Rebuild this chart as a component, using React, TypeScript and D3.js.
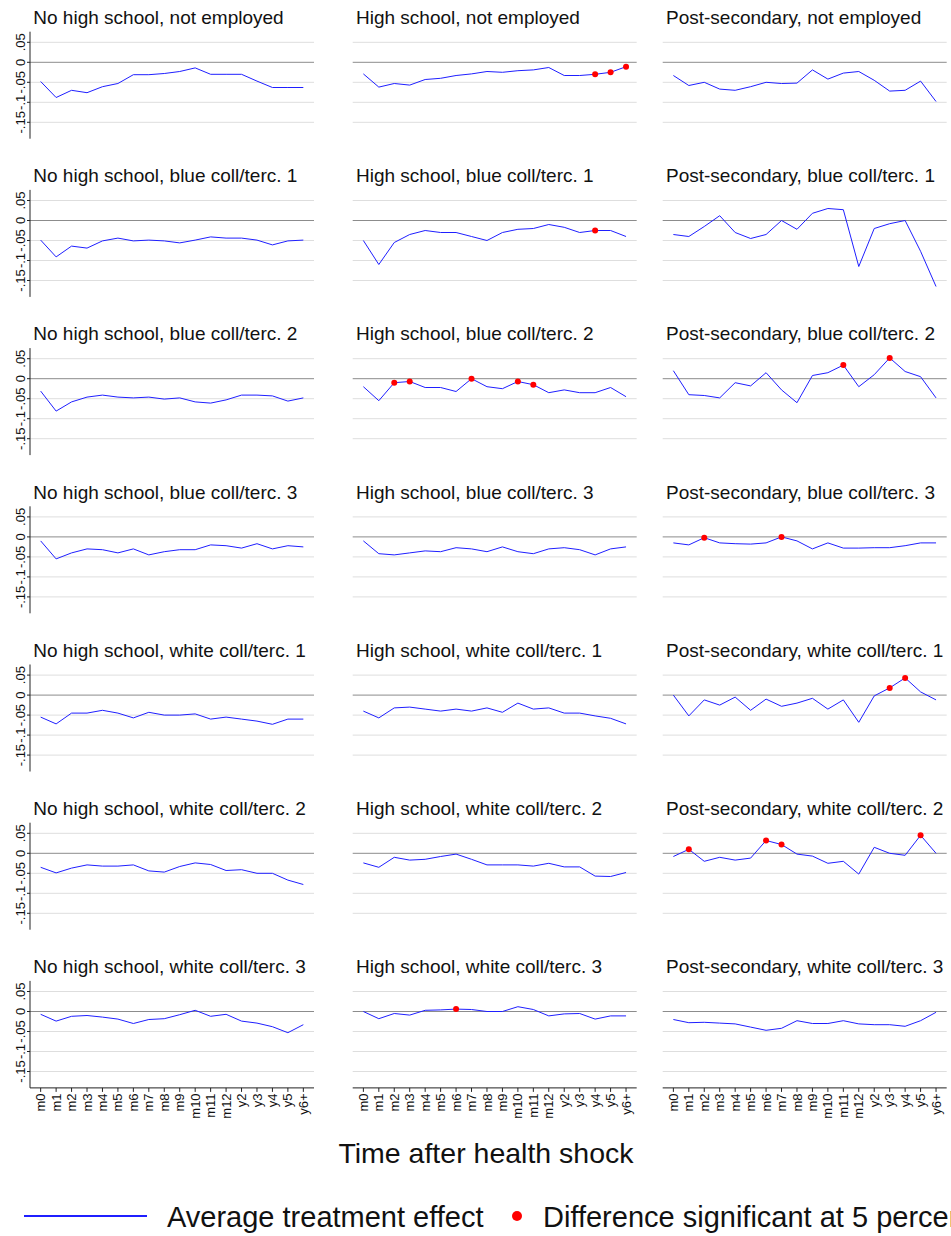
import * as d3 from 'd3'
import React from 'react'

const periods = ['m0', 'm1', 'm2', 'm3', 'm4', 'm5', 'm6', 'm7', 'm8', 'm9', 'm10', 'm11', 'm12', 'y2', 'y3', 'y4', 'y5', 'y6+']
const educationLevels = ['No high school', 'High school', 'Post-secondary']
const jobGroups = ['not employed', 'blue coll/terc. 1', 'blue coll/terc. 2', 'blue coll/terc. 3', 'white coll/terc. 1', 'white coll/terc. 2', 'white coll/terc. 3']
const yTicks = [-0.15, -0.1, -0.05, 0, 0.05]
const yTickLabels = ['-.15', '-.1', '-.05', '0', '.05']

// average treatment effects, one array per panel
const notEmpNoHs = [-0.048, -0.088, -0.070, -0.076, -0.061, -0.053, -0.031, -0.031, -0.028, -0.023, -0.014, -0.030, -0.030, -0.030, -0.047, -0.063, -0.063, -0.063]
const notEmpHs = [-0.029, -0.062, -0.053, -0.057, -0.043, -0.040, -0.033, -0.029, -0.023, -0.025, -0.021, -0.019, -0.013, -0.033, -0.033, -0.030, -0.025, -0.011]
const notEmpPost = [-0.033, -0.058, -0.050, -0.067, -0.070, -0.061, -0.050, -0.053, -0.052, -0.019, -0.042, -0.027, -0.023, -0.045, -0.072, -0.070, -0.047, -0.098]

const blue1NoHs = [-0.049, -0.091, -0.064, -0.069, -0.051, -0.044, -0.051, -0.049, -0.051, -0.056, -0.049, -0.041, -0.044, -0.044, -0.049, -0.061, -0.051, -0.049]
const blue1Hs = [-0.050, -0.110, -0.055, -0.035, -0.025, -0.030, -0.030, -0.040, -0.050, -0.030, -0.022, -0.020, -0.010, -0.017, -0.030, -0.025, -0.025, -0.040]
const blue1Post = [-0.035, -0.040, -0.015, 0.012, -0.030, -0.045, -0.035, 0.000, -0.022, 0.018, 0.030, 0.027, -0.115, -0.020, -0.008, 0.000, -0.077, -0.165]

const blue2NoHs = [-0.031, -0.081, -0.058, -0.046, -0.041, -0.046, -0.048, -0.046, -0.051, -0.048, -0.058, -0.061, -0.053, -0.041, -0.041, -0.043, -0.056, -0.048]
const blue2Hs = [-0.020, -0.055, -0.010, -0.007, -0.022, -0.022, -0.032, 0.000, -0.020, -0.025, -0.007, -0.015, -0.035, -0.028, -0.035, -0.035, -0.022, -0.045]
const blue2Post = [0.020, -0.040, -0.042, -0.048, -0.010, -0.018, 0.015, -0.028, -0.060, 0.008, 0.015, 0.034, -0.020, 0.010, 0.052, 0.018, 0.005, -0.048]

const blue3NoHs = [-0.010, -0.055, -0.040, -0.030, -0.032, -0.040, -0.030, -0.045, -0.037, -0.032, -0.032, -0.020, -0.022, -0.028, -0.017, -0.030, -0.022, -0.025]
const blue3Hs = [-0.010, -0.042, -0.045, -0.040, -0.035, -0.037, -0.027, -0.030, -0.037, -0.025, -0.037, -0.042, -0.030, -0.027, -0.032, -0.045, -0.030, -0.025]
const blue3Post = [-0.015, -0.020, -0.002, -0.015, -0.017, -0.018, -0.015, 0.000, -0.010, -0.030, -0.015, -0.028, -0.028, -0.027, -0.027, -0.022, -0.015, -0.015]

const white1NoHs = [-0.055, -0.072, -0.045, -0.045, -0.038, -0.045, -0.057, -0.043, -0.050, -0.050, -0.047, -0.060, -0.055, -0.060, -0.065, -0.073, -0.060, -0.060]
const white1Hs = [-0.040, -0.057, -0.032, -0.030, -0.035, -0.040, -0.035, -0.040, -0.032, -0.043, -0.020, -0.035, -0.032, -0.045, -0.045, -0.052, -0.058, -0.072]
const white1Post = [0.000, -0.052, -0.012, -0.025, -0.005, -0.038, -0.010, -0.028, -0.020, -0.008, -0.035, -0.012, -0.068, -0.002, 0.018, 0.043, 0.008, -0.012]

const white2NoHs = [-0.035, -0.049, -0.037, -0.029, -0.032, -0.032, -0.029, -0.044, -0.047, -0.033, -0.024, -0.028, -0.043, -0.041, -0.050, -0.050, -0.067, -0.078]
const white2Hs = [-0.024, -0.035, -0.010, -0.017, -0.015, -0.008, -0.002, -0.015, -0.029, -0.029, -0.029, -0.032, -0.025, -0.034, -0.034, -0.057, -0.058, -0.048]
const white2Post = [-0.008, 0.010, -0.020, -0.010, -0.017, -0.012, 0.032, 0.022, -0.002, -0.007, -0.025, -0.020, -0.052, 0.015, 0.000, -0.005, 0.045, 0.000]

const white3NoHs = [-0.007, -0.024, -0.012, -0.010, -0.014, -0.019, -0.030, -0.020, -0.018, -0.008, 0.003, -0.012, -0.007, -0.024, -0.029, -0.038, -0.053, -0.033]
const white3Hs = [0.000, -0.018, -0.005, -0.009, 0.003, 0.004, 0.006, 0.005, 0.000, 0.000, 0.012, 0.005, -0.011, -0.006, -0.005, -0.019, -0.011, -0.011]
const white3Post = [-0.020, -0.028, -0.027, -0.029, -0.031, -0.039, -0.047, -0.042, -0.023, -0.030, -0.030, -0.023, -0.031, -0.033, -0.033, -0.037, -0.023, -0.002]

// periods where the difference is significant at 5 percent
const sigNotEmpHs = ['y4', 'y5', 'y6+']
const sigBlue1Hs = ['y4']
const sigBlue2Hs = ['m2', 'm3', 'm7', 'm10', 'm11']
const sigBlue2Post = ['m11', 'y3']
const sigBlue3Post = ['m2', 'm7']
const sigWhite1Post = ['y3', 'y4']
const sigWhite2Post = ['m1', 'm6', 'm7', 'y5']
const sigWhite3Hs = ['m6']

const seriesGrid = [
  [notEmpNoHs, notEmpHs, notEmpPost],
  [blue1NoHs, blue1Hs, blue1Post],
  [blue2NoHs, blue2Hs, blue2Post],
  [blue3NoHs, blue3Hs, blue3Post],
  [white1NoHs, white1Hs, white1Post],
  [white2NoHs, white2Hs, white2Post],
  [white3NoHs, white3Hs, white3Post],
]
const sigGrid = [
  [[], sigNotEmpHs, []],
  [[], sigBlue1Hs, []],
  [[], sigBlue2Hs, sigBlue2Post],
  [[], [], sigBlue3Post],
  [[], [], sigWhite1Post],
  [[], [], sigWhite2Post],
  [[], sigWhite3Hs, []],
]

const W = 951
const H = 1236
const colLeft = [30, 352.7, 662.7]
const plotW = 284
const plotH = 107
const firstTop = 31.7
const rowStep = 158.2
const font = "'Liberation Sans', Arial, Helvetica, sans-serif"

const Panel = ({ r, c }: any) => {
  const left = colLeft[c]
  const top = firstTop + r * rowStep
  const values: number[] = seriesGrid[r][c]
  const sig: string[] = sigGrid[r][c]
  const x = d3.scalePoint<string>().domain(periods).range([left, left + plotW]).padding(0.69)
  const y = d3.scaleLinear().domain([-0.1910, 0.0765]).range([top + plotH, top])
  const line = d3.line<number>().x((d, i) => x(periods[i]) as number).y((d) => y(d))
  const isBottom = r === jobGroups.length - 1
  const axisY = top + plotH

  return (
    <g>
      <text x={left + 3.3} y={top - 7.7} fontSize={19} fontFamily={font} fill="#111">
        {educationLevels[c]}, {jobGroups[r]}
      </text>
      {yTicks.map((t) => (
        <line key={t} x1={left} x2={left + plotW} y1={y(t)} y2={y(t)}
          stroke={t === 0 ? '#8c8c8c' : '#dedede'} strokeWidth={1} />
      ))}
      {c === 0 && (
        <g>
          <line x1={left} x2={left} y1={top} y2={axisY} stroke="#222" strokeWidth={1} />
          {yTicks.map((t, i) => (
            <g key={t}>
              <line x1={left - 3} x2={left} y1={y(t)} y2={y(t)} stroke="#222" />
              <text transform={`translate(${left - 5},${y(t)}) rotate(-90)`} textAnchor="middle"
                fontSize={13} fontFamily={font} fill="#111">{yTickLabels[i]}</text>
            </g>
          ))}
        </g>
      )}
      <path d={line(values) || ''} fill="none" stroke="#1f1fff" strokeWidth={1} />
      {sig.map((p) => (
        <circle key={p} cx={x(p)} cy={y(values[periods.indexOf(p)])} r={3} fill="#ff0000" />
      ))}
      {isBottom && (
        <g>
          <line x1={left} x2={left + plotW} y1={axisY} y2={axisY} stroke="#222" strokeWidth={1} />
          {periods.map((p) => (
            <g key={p}>
              <line x1={x(p)} x2={x(p)} y1={axisY} y2={axisY + 4} stroke="#222" />
              <text transform={`translate(${x(p)},${axisY + 5.5}) rotate(-90)`} textAnchor="end" dy="0.35em"
                fontSize={13} fontFamily={font} fill="#111">{p}</text>
            </g>
          ))}
        </g>
      )}
    </g>
  )
}

const App = () => {
  return (
    <svg width={W} height={H} style={{ position: 'absolute', left: 0, top: 0, background: '#fff' }}>
      <rect x={0} y={0} width={W} height={H} fill="#fff" />
      {jobGroups.map((j, r) => educationLevels.map((e, c) => <Panel key={`${r}-${c}`} r={r} c={c} />))}
      <text x={486} y={1163} textAnchor="middle" fontSize={28.5} fontFamily={font} fill="#111">
        Time after health shock
      </text>
      <line x1={24} x2={147} y1={1216} y2={1216} stroke="#1f1fff" strokeWidth={2} />
      <text x={167} y={1227} fontSize={29} fontFamily={font} fill="#111">Average treatment effect</text>
      <circle cx={517} cy={1216} r={5} fill="#ff0000" />
      <text x={543} y={1227} fontSize={29} fontFamily={font} fill="#111">Difference significant at 5 percent</text>
    </svg>
  )
}

export default App
